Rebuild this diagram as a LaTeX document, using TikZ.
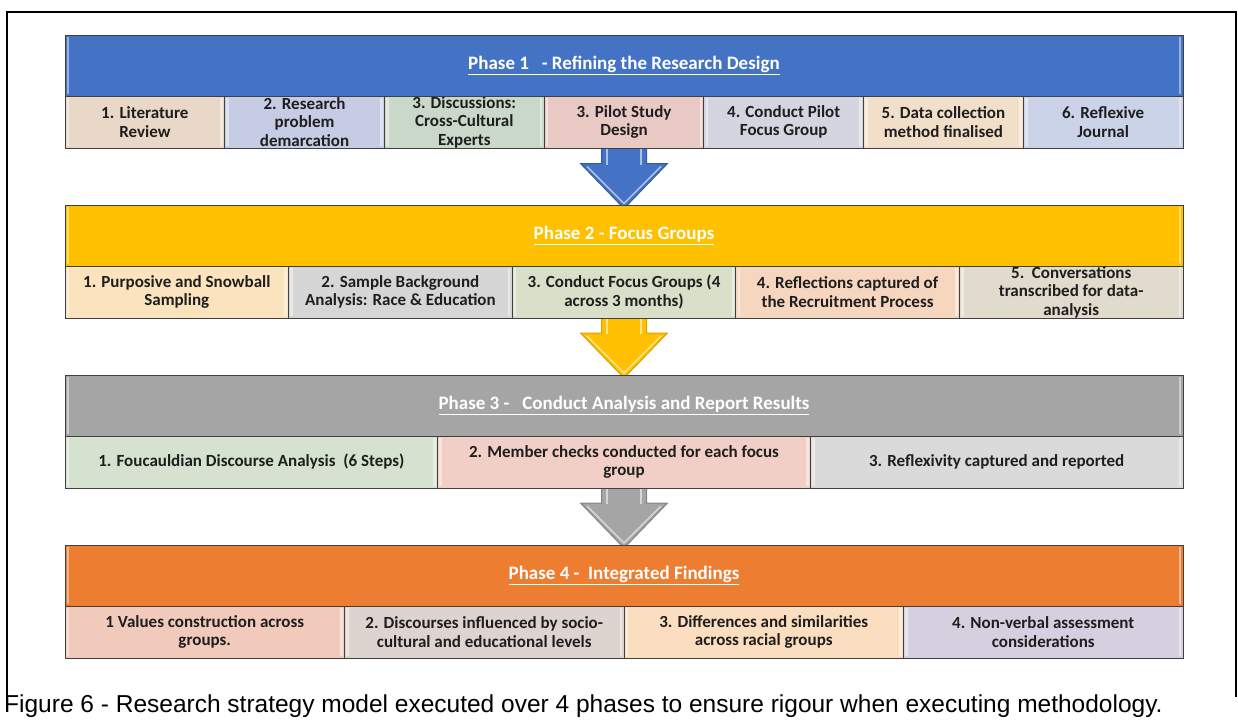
\documentclass[tikz,border=0pt]{standalone}
\usepackage{fontspec}
\setmainfont{Carlito}
\newfontfamily\capfont{Liberation Sans}
\usetikzlibrary{calc}
\definecolor{bordc}{HTML}{404040}
\definecolor{txtc}{HTML}{1E1E1E}
\definecolor{hblue}{HTML}{4472C4}
\definecolor{hyellow}{HTML}{FFC000}
\definecolor{hgray}{HTML}{A5A5A5}
\definecolor{horange}{HTML}{ED7D31}
\definecolor{p1a}{HTML}{E9D8C7}
\definecolor{p1b}{HTML}{C6CCE3}
\definecolor{p1c}{HTML}{C9D8C8}
\definecolor{p1d}{HTML}{E9C9C4}
\definecolor{p1e}{HTML}{D3D6E0}
\definecolor{p1f}{HTML}{F2DFCA}
\definecolor{p1g}{HTML}{CBD3E8}
\definecolor{p2a}{HTML}{FBE3BE}
\definecolor{p2b}{HTML}{D6D6D6}
\definecolor{p2c}{HTML}{D9E0C9}
\definecolor{p2d}{HTML}{F7D6C0}
\definecolor{p2e}{HTML}{E1DBCD}
\definecolor{p3a}{HTML}{D4E2CF}
\definecolor{p3b}{HTML}{F1CFC6}
\definecolor{p3c}{HTML}{DADADA}
\definecolor{p4a}{HTML}{F2CABB}
\definecolor{p4b}{HTML}{DDD4CF}
\definecolor{p4c}{HTML}{FBDDBF}
\definecolor{p4d}{HTML}{D5D0DF}
\tikzset{
  boxbase/.style={draw=bordc, line width=1pt, inner sep=0pt, align=center,
    path picture={
      \draw[white, opacity=0.45, line width=2.5pt]
        ([xshift=3pt,yshift=-2pt]path picture bounding box.north west) --
        ([xshift=3pt,yshift=2pt]path picture bounding box.south west);
      \draw[white, opacity=0.45, line width=2.5pt]
        ([xshift=-3pt,yshift=-2pt]path picture bounding box.north east) --
        ([xshift=-3pt,yshift=2pt]path picture bounding box.south east);
    }},
  hdr/.style={boxbase, fill=#1, minimum width=1118pt, minimum height=61pt,
    font=\bfseries\fontsize{19}{22}\selectfont, text=white},
  sub/.style={boxbase, minimum height=52pt,
    font=\bfseries\fontsize{17}{18.5}\selectfont, text=txtc},
  wa/.style={sub, fill=#1, minimum width=159.714pt},
  wb/.style={sub, fill=#1, minimum width=223.6pt},
  wc/.style={sub, fill=#1, minimum width=372.667pt},
  wd/.style={sub, fill=#1, minimum width=279.5pt},
  frameline/.style={black, line width=1.5pt},
}
\newcommand\blkarr[4]{% #1 start coordinate name, #2 fill, #3 edge, #4 highlight
  \filldraw[fill=#2, draw=#3, line width=1pt, line join=miter]
    ($(#1)+(-22.5,0)$) -- ($(#1)+(-22.5,15)$) -- ($(#1)+(-43.5,15)$) --
    ($(#1)+(0,60)$) -- ($(#1)+(43.5,15)$) -- ($(#1)+(22.5,15)$) --
    ($(#1)+(22.5,0)$) -- cycle;
  \draw[#4, line width=2pt] ($(#1)+(-17,0)$) -- ($(#1)+(-17,16)$);
  \draw[#4, line width=2pt] ($(#1)+(17,0)$) -- ($(#1)+(17,16)$);
  \draw[#4, line width=1.5pt] ($(#1)+(-37,18)$) -- ($(#1)+(0,55)$) -- ($(#1)+(37,18)$);
}
\begin{document}
\begin{tikzpicture}[x=1pt,y=-1pt]
\useasboundingbox (0,0) rectangle (1238,724);
\fill[white] (0,0) rectangle (1238,724);

% frame
\draw[frameline] (7,697) -- (7,12) -- (1236,12) -- (1236,697);

% ---------- node positions (for arrows) ----------
% Phase 1 sub row
\node[wa=p1a] (p1a) at (144.857,122) {1. Literature\\Review};
\node[wa=p1b] (p1b) at (304.571,122) {2. Research\\problem\\demarcation};
\node[wa=p1c] (p1c) at (464.286,122) {3. Discussions:\\Cross-Cultural\\Experts};
\node[wa=p1d] (p1d) at (624,122) {3. Pilot Study\\Design};
\node[wa=p1e] (p1e) at (783.714,122) {4. Conduct Pilot\\Focus Group};
\node[wa=p1f] (p1f) at (943.429,122) {5. Data collection\\method finalised};
\node[wa=p1g] (p1g) at (1103.143,122) {6. Reflexive\\Journal};

\coordinate (a1) at (p1d.south);
\coordinate (a2) at (624,318);
\coordinate (a3) at (624,488);
\blkarr{a1}{hblue}{hblue!80!black}{hblue!45!white}
\blkarr{a2}{hyellow}{hyellow!85!black}{hyellow!45!white}
\blkarr{a3}{hgray}{hgray!80!black}{hgray!45!white}

% Phase 1 header
\node[hdr=hblue] (h1) at (624,65.5) {\underline{Phase 1\ \ \ - Refining the Research Design}};
% redraw sub row on top of arrow start
\node[wa=p1d] at (624,122) {3. Pilot Study\\Design};

% Phase 2
\node[hdr=hyellow] (h2) at (624,235.5) {\underline{Phase 2 - Focus Groups}};
\node[wb=p2a] (p2a) at (176.8,292) {1. Purposive and Snowball\\Sampling};
\node[wb=p2b] (p2b) at (400.4,292) {2. Sample Background\\Analysis: Race \& Education};
\node[wb=p2c] (p2c) at (624,292) {3. Conduct Focus Groups (4\\across 3 months)};
\node[wb=p2d] (p2d) at (847.6,292) {4. Reflections captured of\\the Recruitment Process};
\node[wb=p2e] (p2e) at (1071.2,292) {5.\ \ Conversations\\transcribed for data-\\analysis};

% Phase 3
\node[hdr=hgray] (h3) at (624,405.5) {\underline{Phase 3 -\ \ \ Conduct\ Analysis\ and\ Report\ Results}};
\node[wc=p3a] (p3a) at (251.333,462) {1. Foucauldian Discourse Analysis\ \ (6 Steps)};
\node[wc=p3b] (p3b) at (624,462) {2. Member checks conducted for each focus\\group};
\node[wc=p3c] (p3c) at (996.667,462) {3. Reflexivity captured and reported};

% Phase 4
\node[hdr=horange] (h4) at (624,575.5) {\underline{Phase 4 -\ \ Integrated Findings}};
\node[wd=p4a] (p4a) at (204.75,632) {1 Values construction across\\groups.};
\node[wd=p4b] (p4b) at (484.25,632) {2. Discourses influenced by socio-\\cultural and educational levels};
\node[wd=p4c] (p4c) at (763.75,632) {3. Differences and similarities\\across racial groups};
\node[wd=p4d] (p4d) at (1043.25,632) {4. Non-verbal assessment\\considerations};

% caption
\node[anchor=base west, inner sep=0pt, font=\capfont\fontsize{24.5}{28}\selectfont] (cap) at (4,712)
  {Figure 6 - Research strategy model executed over 4 phases to ensure rigour when executing methodology.};
\end{tikzpicture}
\end{document}
